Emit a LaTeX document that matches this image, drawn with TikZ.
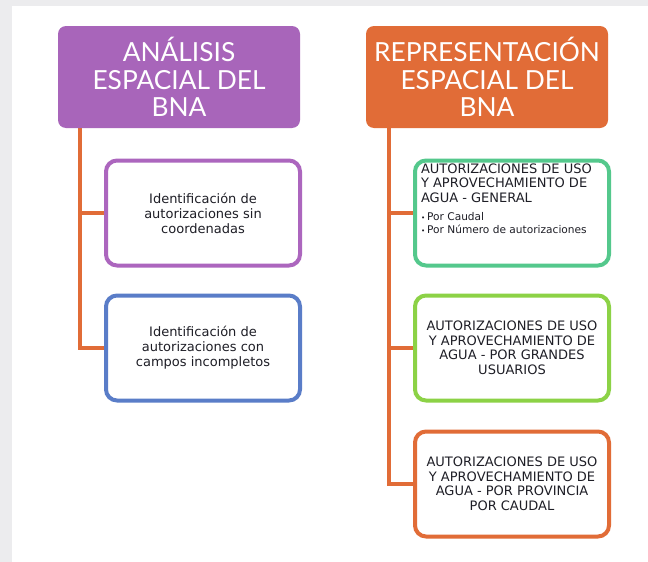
\documentclass[tikz,border=0pt]{standalone}
\usepackage{fontspec}
\setmainfont{DejaVu Sans}
\newfontfamily\headfont{Lato}
\usetikzlibrary{backgrounds}
\definecolor{bggray}{RGB}{236,236,238}
\definecolor{purpH}{RGB}{168,101,186}
\definecolor{orangeC}{RGB}{225,108,55}
\definecolor{purpB}{RGB}{172,102,190}
\definecolor{blueB}{RGB}{90,125,200}
\definecolor{greenA}{RGB}{84,200,140}
\definecolor{greenB}{RGB}{140,210,70}
\definecolor{txtgray}{RGB}{30,30,38}
\tikzset{
  head/.style={rounded corners=8pt, inner sep=0pt, minimum width=242pt, minimum height=102pt,
    text=white, font=\headfont\fontsize{26.3}{27.5}\selectfont, align=center},
  child/.style={draw, line width=4pt, rounded corners=11pt, fill=white, minimum width=194pt,
    minimum height=105pt, inner sep=0pt, align=center, text=txtgray,
    font=\fontsize{13}{15}\selectfont},
  conn/.style={draw=orangeC, line width=4pt}
}
\begin{document}
\begin{tikzpicture}[x=1pt,y=-1pt]
\useasboundingbox (0,0) rectangle (648,562);
\node[head, fill=purpH] (lh) at (179,77) {ANÁLISIS\\ESPACIAL DEL\\BNA};
\node[head, fill=orangeC] (rh) at (487,77) {REPRESENTACIÓN\\ESPACIAL DEL\\BNA};
\node[child, draw=purpB] (l1) at (203,213) {Identificación de\\autorizaciones sin\\coordenadas};
\node[child, draw=blueB] (l2) at (203,348) {Identificación de\\autorizaciones con\\campos incompletos};
\node[child, draw=greenA] (r1) at (512,213) {\parbox[c][99pt][t]{182pt}{\raggedright
  {\fontsize{13}{14.5}\selectfont AUTORIZACIONES DE USO\\Y APROVECHAMIENTO DE\\AGUA - GENERAL\par}
  \vspace{5pt}
  {\fontsize{10.6}{13}\selectfont {\fontsize{7}{7}\selectfont •}\hspace{2pt}Por Caudal\\
   {\fontsize{7}{7}\selectfont •}\hspace{2pt}Por Número de autorizaciones\par}}};
\node[child, draw=greenB, font=\fontsize{13}{14.5}\selectfont] (r2) at (512,348)
  {AUTORIZACIONES DE USO\\Y APROVECHAMIENTO DE\\AGUA - POR GRANDES\\USUARIOS};
\node[child, draw=orangeC, font=\fontsize{13}{14.5}\selectfont] (r3) at (512,484)
  {AUTORIZACIONES DE USO\\Y APROVECHAMIENTO DE\\AGUA - POR PROVINCIA\\POR CAUDAL};
\coordinate (lt) at ([xshift=22pt]lh.south west);
\coordinate (rt) at ([xshift=23pt]rh.south west);
\begin{scope}[on background layer]
  \fill[bggray] (0,0) rectangle (648,562);
  \fill[white] (12,6) rectangle (648,562);
  \draw[conn] (lt) |- (l1.west);
  \draw[conn] (lt) |- (l2.west);
  \draw[conn] (rt) |- (r1.west);
  \draw[conn] (rt) |- (r2.west);
  \draw[conn] (rt) |- (r3.west);
\end{scope}
\end{tikzpicture}
\end{document}
